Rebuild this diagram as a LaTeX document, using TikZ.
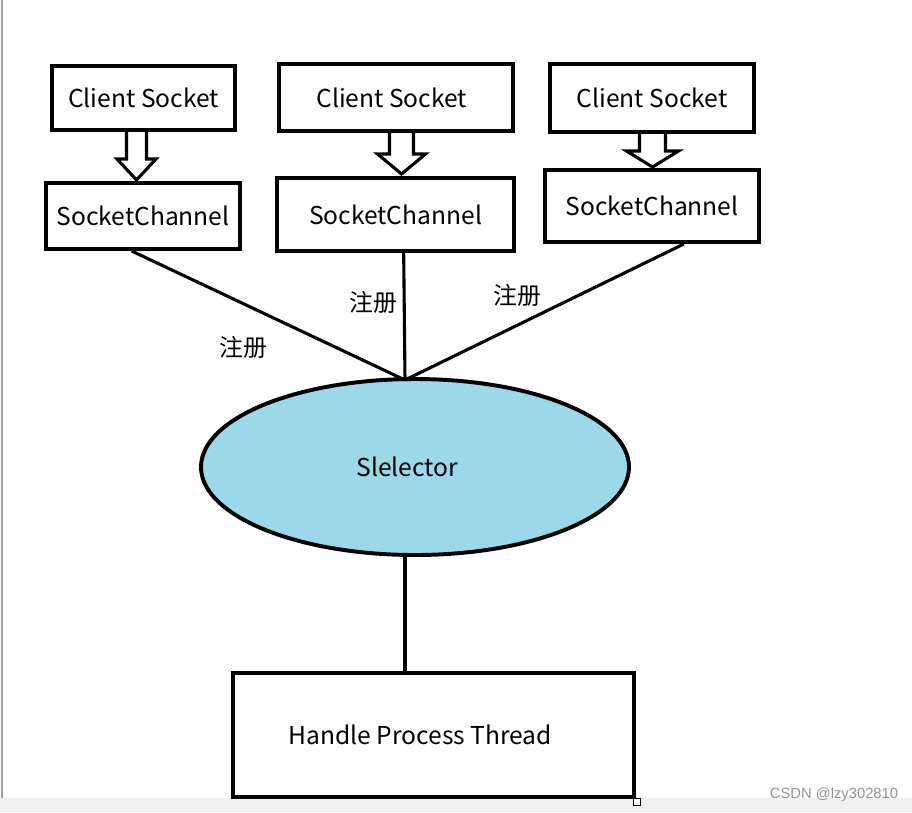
\documentclass[tikz,border=0pt]{standalone}
\usepackage{fontspec}
\setmainfont{Noto Sans CJK SC}
\newfontfamily\wmfont{Liberation Sans}
\usetikzlibrary{shapes.geometric}
\definecolor{selblue}{RGB}{155,216,234}
\definecolor{bandgray}{RGB}{240,240,240}

\begin{document}
\begin{tikzpicture}[x=0.025cm,y=-0.025cm,
    box/.style={draw,line width=2.8pt,inner sep=0pt,font=\fontsize{17.5}{20}\selectfont},
    link/.style={line width=2.2pt},
    hollow/.style={draw,line width=2.2pt,line join=miter},
    regtext/.style={font=\fontsize{17}{20}\selectfont}]
        \useasboundingbox (0,0) rectangle (912,812);
        \fill[white] (0,0) rectangle (912,812);
        \fill[bandgray] (0,798) rectangle (912,812);
        \draw[gray!75,line width=1pt] (2,0) -- (2,798);
        % clients and channels
        \node[box,minimum width=183*0.025cm,minimum height=64*0.025cm] (cs1) at (143.5,98) {Client Socket};
        \node[box,minimum width=234*0.025cm,minimum height=67*0.025cm] (cs2) at (396,97.5) {Client Socket\kern6pt};
        \node[box,minimum width=204*0.025cm,minimum height=68*0.025cm] (cs3) at (652,98) {Client Socket};
        \node[box,minimum width=194*0.025cm,minimum height=66*0.025cm] (sc1) at (143,216) {SocketChannel};
        \node[box,minimum width=237*0.025cm,minimum height=73*0.025cm] (sc2) at (395.5,214.5) {SocketChannel};
        \node[box,minimum width=214*0.025cm,minimum height=72*0.025cm] (sc3) at (652,206) {SocketChannel};
        % hollow arrows
        \foreach \cx/\ya/\yb/\yc/\ws/\wh in {136.5/132/159/180/10/19.5, 401.5/131/154/174/12/24, 652.5/132/151/167/13/26}
            \draw[hollow] ({\cx-\ws},\ya) -- ({\cx-\ws},\yb) -- ({\cx-\wh},\yb) -- (\cx,\yc)
                -- ({\cx+\wh},\yb) -- ({\cx+\ws},\yb) -- ({\cx+\ws},\ya);
        % selector and thread
        \node[ellipse,draw,line width=2.8pt,fill=selblue,minimum width=428*0.025cm,minimum height=176*0.025cm,
            inner sep=0pt,font=\fontsize{17.5}{20}\selectfont] (sel) at (415,467) {\raisebox{-3pt}{Slelector}\kern11pt};
        \node[box,minimum width=401*0.025cm,minimum height=124*0.025cm] (hpt) at (433.5,735) {\raisebox{-2pt}{Handle Process Thread}\kern19pt};
        \coordinate (hub) at (405,380);
        \draw[link] (sc1.-108) -- (hub);
        \draw[link] (sc2.-78) -- (hub);
        \draw[link] (sc3.-50) -- (hub);
        \draw[link] (sel.south -| hub) -- (hpt.north -| hub);
        \node[regtext] (reg1) at (243,347) {注册};
        \node[regtext] (reg2) at (373,302) {注册};
        \node[regtext] (reg3) at (517,295) {注册};
        % screenshot leftovers
        \draw[line width=0.8pt,fill=white] (633.5,798.5) rectangle (640.5,805.5);
        \node[text=gray!85,font=\wmfont\fontsize{10.5}{12}\selectfont] (wm) at (834,795) {CSDN @lzy302810};
    \end{tikzpicture}
\end{document}
